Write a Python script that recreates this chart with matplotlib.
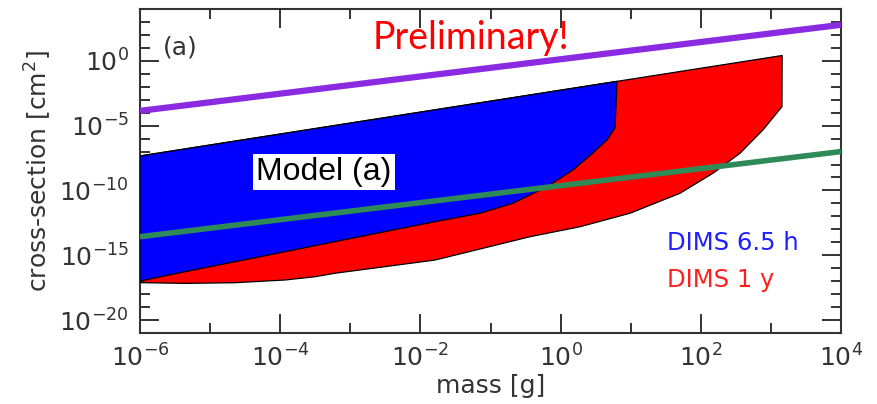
import numpy as np
import matplotlib
matplotlib.use("Agg")
import matplotlib.pyplot as plt
from matplotlib.ticker import FixedLocator, NullFormatter

plt.rcParams['axes.unicode_minus'] = False

# ---- data (log10 values) ----
top_logm = [-6.0, 3.16]            # common upper boundary of the DIMS regions
top_logs = [-7.34, 0.41]

blue_right_logm = 0.805
blue_lower_logm = [0.776, 0.662, 0.462, 0.177, -0.194, -0.679, -1.150, -1.792, -2.505,
                   -3.218, -3.932, -4.645, -5.358, -5.929, -6.0]
blue_lower_logs = [-5.17, -6.10, -7.10, -8.42, -9.71, -10.99, -11.76, -12.41, -13.18,
                   -13.95, -14.73, -15.50, -16.27, -16.91, -17.05]

red_lower_logm = [3.158, 2.887, 2.559, 2.174, 1.703, 0.990, 0.277, -0.437, -1.121, -1.792,
                  -2.505, -3.218, -3.504, -3.932, -4.645, -5.358, -5.929, -6.0]
red_lower_logs = [-3.53, -5.33, -7.13, -8.67, -10.22, -11.76, -12.80, -13.57, -14.48, -15.37,
                  -15.88, -16.39, -16.66, -16.91, -17.12, -17.17, -17.12, -17.12]

purple_logm = [-6.0, 4.0]
purple_logs = [-3.86, 2.78]
green_logm = [-6.0, 4.0]
green_logs = [-13.57, -7.0]

xlim_log = (-6, 4)
ylim_log = (-21, 4)
xtick_major = [-6, -4, -2, 0, 2, 4]
ytick_major = [-20, -15, -10, -5, 0]

def top_at(lm):
    return np.interp(lm, top_logm, top_logs)

fig = plt.figure(figsize=(8.77, 4.04), dpi=100)
ax = fig.add_axes([140/877, 1-333/404, 701/877, 324/404])
ax.set_xscale('log')
ax.set_yscale('log')

# red polygon (DIMS 1 y)
rx = [top_logm[0], top_logm[1]] + red_lower_logm
ry = [top_logs[0], top_logs[1]] + red_lower_logs
ax.fill(10.0**np.array(rx), 10.0**np.array(ry), facecolor='#ff0000', edgecolor='black',
        linewidth=0.9, zorder=2, joinstyle='round')

# blue polygon (DIMS 6.5 h)
bx = [top_logm[0], blue_right_logm] + blue_lower_logm
by = [top_logs[0], float(top_at(blue_right_logm))] + blue_lower_logs
ax.fill(10.0**np.array(bx), 10.0**np.array(by), facecolor='#0000ff', edgecolor='black',
        linewidth=0.9, zorder=3, joinstyle='round')

ax.plot(10.0**np.array(purple_logm), 10.0**np.array(purple_logs), color='#8a2be2', lw=4.5,
        zorder=4, solid_capstyle='butt')
ax.plot(10.0**np.array(green_logm), 10.0**np.array(green_logs), color='#2e8b57', lw=4.0,
        zorder=4, solid_capstyle='butt')

ax.set_xlim(10.0**xlim_log[0], 10.0**xlim_log[1])
ax.set_ylim(10.0**ylim_log[0], 10.0**ylim_log[1])

ax.xaxis.set_major_locator(FixedLocator([10.0**v for v in xtick_major]))
ax.xaxis.set_minor_locator(FixedLocator([10.0**v for v in range(xlim_log[0], xlim_log[1]+1)
                                         if v not in xtick_major]))
ax.yaxis.set_major_locator(FixedLocator([10.0**v for v in ytick_major]))
ax.yaxis.set_minor_locator(FixedLocator([10.0**v for v in range(ylim_log[0], ylim_log[1]+1)
                                         if v not in ytick_major]))
ax.xaxis.set_minor_formatter(NullFormatter())
ax.yaxis.set_minor_formatter(NullFormatter())

tc = '#333333'
ax.tick_params(which='both', direction='in', top=True, right=True, colors=tc, width=1.4)
ax.tick_params(which='major', length=14, labelsize=18, pad=8)
ax.tick_params(which='minor', length=7.5)
for s in ax.spines.values():
    s.set_color(tc)
    s.set_linewidth(1.5)

ax.set_xlabel('mass [g]', fontsize=18, color=tc, labelpad=2)
ax.set_ylabel('cross-section [cm$^2$]', fontsize=18, color=tc, labelpad=4)

ax.text(0.033, 0.88, '(a)', transform=ax.transAxes, fontsize=18, color=tc, va='center',
        ha='left', zorder=6)
ax.text(0.472, 0.875, 'Preliminary!', transform=ax.transAxes, fontsize=27, color='#ff0000',
        family=['Lato', 'DejaVu Sans'], va='baseline', ha='center', zorder=6)
ax.text(0.2625, 0.472, 'Model (a)', transform=ax.transAxes, fontsize=23, color='black',
        family=['Liberation Sans', 'DejaVu Sans'], va='baseline', ha='center', zorder=6,
        bbox=dict(facecolor='white', edgecolor='none', pad=2))
ax.text(0.752, 0.256, 'DIMS 6.5 h', transform=ax.transAxes, fontsize=17.5, color='#1f1fff',
        va='baseline', ha='left', zorder=6)
ax.text(0.752, 0.142, 'DIMS 1 y', transform=ax.transAxes, fontsize=17.5, color='#ff1f1f',
        va='baseline', ha='left', zorder=6)

fig.savefig('out.png', dpi=100)
